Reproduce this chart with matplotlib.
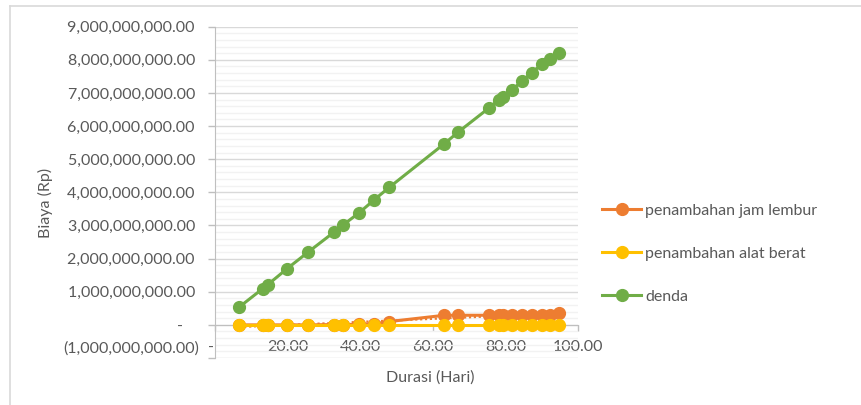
import numpy as np
import matplotlib.pyplot as plt
from matplotlib.ticker import FixedLocator, MultipleLocator, FuncFormatter
from matplotlib.lines import Line2D
from matplotlib.transforms import ScaledTranslation

plt.rcParams['font.family'] = ['Lato', 'DejaVu Sans']

# durasi proyek (hari) dan biaya tiap skenario (Rp)
durasi = np.array([6.7, 13.1, 14.5, 19.9, 25.7, 32.8, 35.2, 39.8, 43.9, 48.0,
                   63.2, 67.0, 75.4, 78.2, 79.4, 81.9, 84.5, 87.2, 90.0, 92.3, 94.8])
jam_lembur = np.array([0.0, 0.0, 0.0, 0.0, 0.0, 0.01, 0.01, 0.02, 0.03, 0.10,
                       0.29, 0.29, 0.29, 0.29, 0.29, 0.29, 0.29, 0.29, 0.29, 0.30, 0.36]) * 1e9
alat_berat = np.zeros(21) * 1e9
denda = np.array([0.54, 1.09, 1.21, 1.70, 2.20, 2.80, 3.01, 3.39, 3.78, 4.15,
                  5.47, 5.82, 6.54, 6.80, 6.88, 7.10, 7.35, 7.61, 7.86, 8.04, 8.22]) * 1e9

nama = ["penambahan jam lembur", "penambahan alat berat", "denda"]
warna = ["#ED7D31", "#FFC000", "#70AD47"]
teks = "#595959"
fs = 11.5

fig = plt.figure(figsize=(8.61, 4.05), dpi=100)
ax = fig.add_axes([215 / 861, 1 - 358 / 405, (578 - 215) / 861, (358 - 26.7) / 405])

# garis tren linear untuk jam lembur
k = np.polyfit(durasi, jam_lembur, 1)
xt = np.array([durasi.min(), durasi.max()])
ax.plot(xt, np.polyval(k, xt), color=warna[0], lw=1.6, ls=(0, (1, 1.2)), zorder=2)

for y, c in zip([jam_lembur, alat_berat, denda], warna):
    ax.plot(durasi, y, color=c, lw=2.2, marker="o", ms=8.5, zorder=3)

ax.set_xlim(0, 100)
ax.set_ylim(-1e9, 9e9)

ax.yaxis.set_major_locator(MultipleLocator(1e9))
ax.yaxis.set_minor_locator(MultipleLocator(2e8))
ax.xaxis.set_major_locator(FixedLocator([0, 20, 40, 60, 80, 100]))


def fmt_y(v, pos):
    if abs(v) < 1:
        return "-    "
    if v < 0:
        return "({:,.2f})".format(abs(v))
    return "{:,.2f} ".format(v)


def fmt_x(v, pos):
    if abs(v) < 1e-9:
        return "-  "
    return "{:.2f}".format(v)


ax.yaxis.set_major_formatter(FuncFormatter(fmt_y))
ax.xaxis.set_major_formatter(FuncFormatter(fmt_x))

ax.grid(which="major", axis="y", color="#d9d9d9", lw=1.0, zorder=0)
ax.grid(which="minor", axis="y", color="#f2f2f2", lw=1.0, zorder=0)
ax.set_axisbelow(True)

for s in ["top", "right"]:
    ax.spines[s].set_visible(False)
ax.spines["bottom"].set_position(("data", 0))
ax.spines["bottom"].set_color("#bfbfbf")
ax.spines["left"].set_color("#bfbfbf")

ax.tick_params(axis="y", which="major", direction="out", length=5, width=1,
               color="#bfbfbf", labelcolor=teks, labelsize=fs, pad=6.5)
ax.tick_params(axis="y", which="minor", length=0)
ax.tick_params(axis="x", direction="out", length=4, width=1,
               color="#bfbfbf", labelcolor=teks, labelsize=fs, pad=7)

ax.set_ylabel("Biaya (Rp)", color=teks, fontsize=fs)
ax.yaxis.set_label_coords(45 / 861, 0.5, transform=fig.transFigure)
ax.yaxis.label.set_va("center")
ax.set_xlabel("Durasi (Hari)", color=teks, fontsize=fs)
ax.xaxis.set_label_coords(0.5, 1 - 378 / 405, transform=fig.transFigure)
ax.xaxis.label.set_va("center")

handles = [Line2D([], [], color=c, lw=2.2, marker="o", ms=8.5) for c in warna]
fig.legend(handles, nama, loc="upper left", bbox_to_anchor=(602 / 861, 1 - 203.5 / 405),
           frameon=False, fontsize=fs, labelcolor=teks, handlelength=2.45,
           handletextpad=0.25, labelspacing=1.8, borderaxespad=0, borderpad=0)

# bingkai area grafik
fig.add_artist(Line2D([10 / 861, 1], [1 - 6 / 405, 1 - 6 / 405], color="#d9d9d9", lw=1.2))
fig.add_artist(Line2D([10 / 861, 10 / 861], [0, 1 - 6 / 405], color="#d9d9d9", lw=1.2))

# label negatif sedikit dinaikkan
fig.canvas.draw()
for t in ax.yaxis.get_major_ticks():
    if t.get_loc() < -1:
        t.label1.set_transform(t.label1.get_transform() +
                               ScaledTranslation(0, 11 / 100, fig.dpi_scale_trans))

fig.savefig("out.png", dpi=100)
